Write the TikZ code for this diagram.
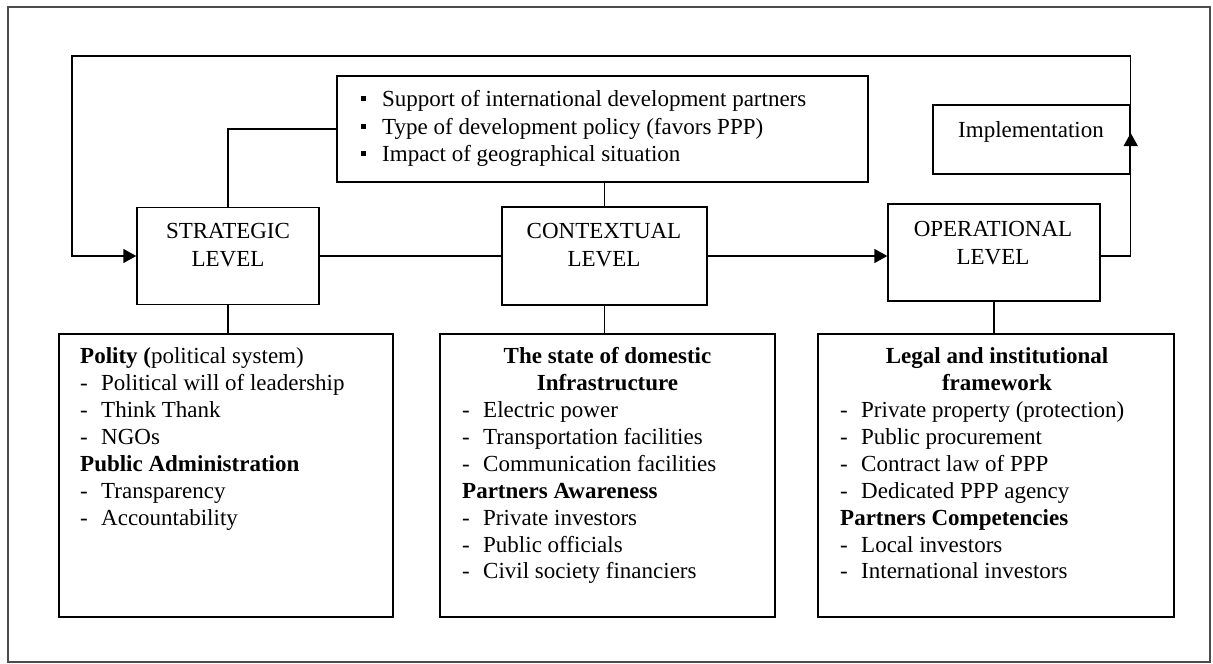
\documentclass[tikz,border=0pt]{standalone}
\usepackage{fontspec}
\setmainfont{Liberation Serif}
\usetikzlibrary{arrows.meta}
% small filled square used as a list bullet
\newcommand\sqbul{\makebox[21pt][l]{\raisebox{0.25em}{\rule{5pt}{5pt}}}}
% dash-led list entry
\newcommand\dashitem[1]{\makebox[21pt][l]{-}#1}
\begin{document}
\begin{tikzpicture}[x=1pt,y=-1pt,
  frame/.style={draw, line width=1.4pt, rectangle, inner sep=0pt},
  link/.style={line width=1.4pt},
  tip/.style={-{Triangle[length=13pt,width=14pt]}},
  leveltxt/.style={inner sep=0pt, align=center, anchor=north, font=\fontsize{23}{28}\selectfont},
  listtxt/.style={inner sep=0pt, align=left, anchor=north west, font=\fontsize{23}{26.9}\selectfont},
  headtxt/.style={inner sep=0pt, align=center, anchor=north, font=\fontsize{23}{26.9}\selectfont\bfseries},
]
\useasboundingbox (0,0) rectangle (1213,664);
% outer frame
\draw[line width=1.3pt, black!70] (8,7) rectangle (1210,662);

% the three levels
\node[frame, minimum width=182pt, minimum height=97pt] (strat) at (228,256) {};
\node[frame, minimum width=205pt, minimum height=98pt] (ctx) at (604.5,256) {};
\node[frame, minimum width=212pt, minimum height=97pt] (oper) at (994,252.5) {};
\node[leveltxt] (stratT) at (228,218.4) {\strut STRATEGIC\\LEVEL};
\node[leveltxt] (ctxT) at (604,218.4) {\strut CONTEXTUAL\\LEVEL};
\node[leveltxt] (operT) at (993,216.9) {\strut OPERATIONAL\\LEVEL};

% external factors
\node[frame, minimum width=531pt, minimum height=106pt] (ext) at (602.5,129) {};
\node[inner sep=0pt, align=left, anchor=north west, font=\fontsize{23}{27.5}\selectfont] (extT) at (361,87.3)
  {\strut\sqbul Support of international development partners\\
   \sqbul Type of development policy (favors PPP)\\
   \sqbul Impact of geographical situation};

% implementation
\node[frame, minimum width=197pt, minimum height=69pt] (impl) at (1031.5,139.5) {};
\node[inner sep=0pt, anchor=base, font=\fontsize{23}{27}\selectfont] (implT) at (1031,137) {Implementation};

% detail boxes
\node[frame, minimum width=334pt, minimum height=283pt] (lbox) at (226,475.5) {};
\node[frame, minimum width=335pt, minimum height=283pt] (cbox) at (607.5,475.5) {};
\node[frame, minimum width=356pt, minimum height=283pt] (rbox) at (996,475.5) {};

\node[listtxt] (lboxT) at (80,344.7)
  {\strut\textbf{Polity (}political system)\\
   \dashitem{Political will of leadership}\\
   \dashitem{Think Thank}\\
   \dashitem{NGOs}\\
   \textbf{Public Administration}\\
   \dashitem{Transparency}\\
   \dashitem{Accountability}};

\node[headtxt] (cboxH) at (607.5,344.7) {\strut The state of domestic\\Infrastructure};
\node[listtxt] (cboxT) at (462,398.5)
  {\strut\dashitem{Electric power}\\
   \dashitem{Transportation facilities}\\
   \dashitem{Communication facilities}\\
   \textbf{Partners Awareness}\\
   \dashitem{Private investors}\\
   \dashitem{Public officials}\\
   \dashitem{Civil society financiers}};

\node[headtxt] (rboxH) at (997,344.7) {\strut Legal and institutional\\framework};
\node[listtxt] (rboxT) at (840,398.5)
  {\strut\dashitem{Private property (protection)}\\
   \dashitem{Public procurement}\\
   \dashitem{Contract law of PPP}\\
   \dashitem{Dedicated PPP agency}\\
   \textbf{Partners Competencies}\\
   \dashitem{Local investors}\\
   \dashitem{International investors}};

% helper levels for the feedback loop
\coordinate (topY) at (0,56);
\coordinate (tipY) at (0,133);
\coordinate (fbL) at (72,0);
\coordinate (rc) at (impl.east |- ctx.east);
\coordinate (mid) at (impl.east |- tipY);

% connectors
\draw[link] (ext.west) -| (strat.north);
\draw[link] (ext.south -| ctx.north) -- (ctx.north);
\draw[link] (strat.east) -- (ctx.west);
\draw[link,tip] (ctx.east) -- (ctx.east -| oper.west);
\draw[link] (oper.east |- ctx.east) -- (rc);
\draw[link,tip] (rc) -- (mid);
\draw[link,tip] (mid) -- (impl.east |- topY) -| (fbL |- strat.west) -- (strat.west);
\draw[link] (strat.south) -- (strat.south |- lbox.north);
\draw[link] (ctx.south) -- (ctx.south |- cbox.north);
\draw[link] (oper.south) -- (oper.south |- rbox.north);
\end{tikzpicture}
\end{document}
